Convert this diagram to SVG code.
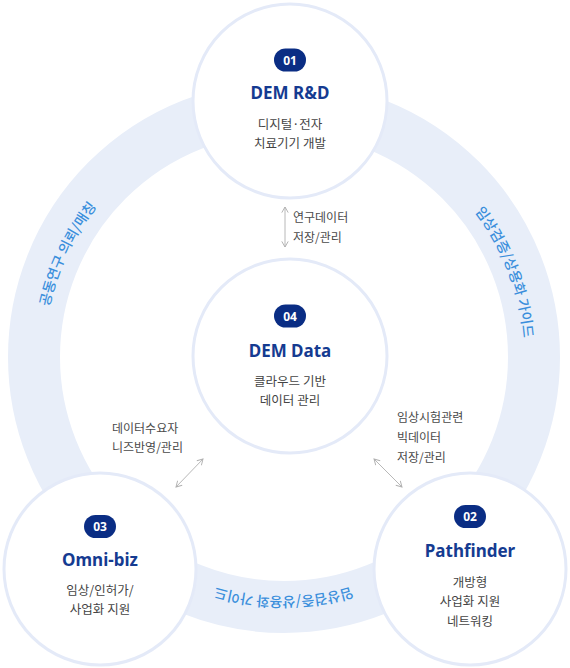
<svg xmlns="http://www.w3.org/2000/svg" width="570" height="668" viewBox="0 0 570 668">
<style>
.ring{fill:none;stroke:#e8eef9;stroke-width:52}
.rt{font-family:"Noto Sans CJK KR","Noto Sans",sans-serif;font-size:14px;font-weight:500;fill:#3a8edc}
.node{fill:#fff;stroke:#e4eaf8;stroke-width:3}
.badge{fill:#0a2d84}
.bt{font-family:"Noto Sans","Inter",sans-serif;font-weight:700;font-size:12px;fill:#fff;text-anchor:middle}
.tt{font-family:"Noto Sans","Inter",sans-serif;font-weight:700;font-size:17px;fill:#153b91;text-anchor:middle}
.body{font-family:"Noto Sans CJK KR","Noto Sans",sans-serif;font-size:12.5px;fill:#444;text-anchor:middle}
.lab{font-family:"Noto Sans CJK KR","Noto Sans",sans-serif;font-size:12px;fill:#4a4a4a}
.conn{stroke:#b8b8b8;stroke-width:1;fill:none;marker-start:url(#ah);marker-end:url(#ah)}
</style>
<defs>
<marker id="ah" viewBox="0 0 10 10" refX="9" refY="5" markerWidth="8" markerHeight="8" markerUnits="userSpaceOnUse" orient="auto-start-reverse">
<path d="M2,1 L9,5 L2,9" fill="none" stroke="#b0b0b0" stroke-width="1.2"/>
</marker>
<path id="rp" d="M284,117 A240,240 0 1 1 284,597 A240,240 0 1 1 284,117"/>
</defs>
<g id="ring">
<circle class="ring" cx="284" cy="357" r="250"/>
<text class="rt" text-anchor="middle"><textPath href="#rp" startOffset="1237">공동연구 의뢰/매칭</textPath></text>
<text class="rt" text-anchor="middle"><textPath href="#rp" startOffset="289">임상검증/상용화 가이드</textPath></text>
<text class="rt" text-anchor="middle"><textPath href="#rp" startOffset="754">임상검증/상용화 가이드</textPath></text>
</g>
<g id="connectors">
<line class="conn" x1="285" y1="207" x2="285" y2="247"/>
<line class="conn" x1="203" y1="459" x2="176" y2="487"/>
<line class="conn" x1="374" y1="459" x2="402" y2="487"/>
<text class="lab" x="293" y="222">연구데이터</text>
<text class="lab" x="293" y="242">저장/관리</text>
<text class="lab" x="112" y="433">데이터수요자</text>
<text class="lab" x="112" y="452">니즈반영/관리</text>
<text class="lab" x="397" y="422">임상시험관련</text>
<text class="lab" x="397" y="442">빅데이터</text>
<text class="lab" x="397" y="462">저장/관리</text>
</g>
<g id="node01">
<circle class="node" cx="290" cy="101" r="97"/>
<rect class="badge" x="274" y="48.5" width="32" height="23" rx="11.5"/>
<text class="bt" x="290" y="64.5">01</text>
<text class="tt" x="290" y="98.5">DEM R&amp;D</text>
<text class="body" x="290" y="129">디지털·전자</text>
<text class="body" x="290" y="147.5">치료기기 개발</text>
</g>
<g id="node04">
<circle class="node" cx="290" cy="356" r="97"/>
<rect class="badge" x="274" y="304.5" width="32" height="23" rx="11.5"/>
<text class="bt" x="290" y="320.5">04</text>
<text class="tt" x="290" y="356.5">DEM Data</text>
<text class="body" x="290" y="386">클라우드 기반</text>
<text class="body" x="290" y="404.5">데이터 관리</text>
</g>
<g id="node03">
<circle class="node" cx="100" cy="569" r="96"/>
<rect class="badge" x="84" y="515" width="32" height="23" rx="11.5"/>
<text class="bt" x="100" y="531">03</text>
<text class="tt" x="100" y="566">Omni-biz</text>
<text class="body" x="100" y="594.5">임상/인허가/</text>
<text class="body" x="100" y="613.5">사업화 지원</text>
</g>
<g id="node02">
<circle class="node" cx="470" cy="569" r="96"/>
<rect class="badge" x="454" y="505" width="32" height="23" rx="11.5"/>
<text class="bt" x="470" y="521">02</text>
<text class="tt" x="470" y="556.5">Pathfinder</text>
<text class="body" x="470" y="586.5">개방형</text>
<text class="body" x="470" y="606">사업화 지원</text>
<text class="body" x="470" y="625.5">네트워킹</text>
</g>
</svg>
